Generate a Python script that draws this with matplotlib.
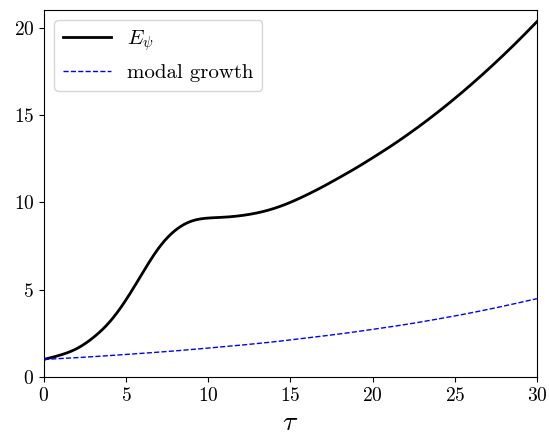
import matplotlib
matplotlib.use("Agg")
import matplotlib.pyplot as plt
import numpy as np

plt.rcParams['font.family'] = 'serif'
plt.rcParams['font.serif'] = ['cmr10']
plt.rcParams['mathtext.fontset'] = 'cm'
plt.rcParams['axes.formatter.use_mathtext'] = True

# energy curve
tau_e = [0, 1, 2, 3, 4, 5, 6, 7, 8, 9, 10,
         11, 12, 13, 14, 15, 16, 17, 18, 19, 20, 21, 22, 23, 24, 25, 26, 27, 28, 29, 30]
e_psi = [1.0, 1.25, 1.62, 2.25, 3.15, 4.42, 5.95, 7.4, 8.4, 8.93, 9.1,
         9.15, 9.24, 9.40, 9.65, 10.0, 10.43, 10.91, 11.43, 11.97, 12.55, 13.15, 13.79, 14.47, 15.19, 15.95,
         16.75, 17.59, 18.47, 19.39, 20.35]

# modal growth curve
tau_m = [0, 2, 4, 6, 8, 10, 12, 14, 16, 18, 20, 22, 24, 26, 28, 30]
modal = [1.0, 1.1, 1.22, 1.35, 1.49, 1.65, 1.82, 2.01, 2.23, 2.46, 2.72, 3.0, 3.32, 3.67, 4.06, 4.48]


def spline(xk, yk, xs):
    # natural cubic spline through the read points
    xk = np.asarray(xk, float)
    yk = np.asarray(yk, float)
    n = len(xk)
    h = np.diff(xk)
    A = np.zeros((n, n))
    b = np.zeros(n)
    A[0, 0] = 1
    A[-1, -1] = 1
    for i in range(1, n - 1):
        A[i, i - 1] = h[i - 1]
        A[i, i] = 2 * (h[i - 1] + h[i])
        A[i, i + 1] = h[i]
        b[i] = 6 * ((yk[i + 1] - yk[i]) / h[i] - (yk[i] - yk[i - 1]) / h[i - 1])
    m = np.linalg.solve(A, b)
    idx = np.clip(np.searchsorted(xk, xs) - 1, 0, n - 2)
    x0, x1 = xk[idx], xk[idx + 1]
    hh = x1 - x0
    t0, t1 = x1 - xs, xs - x0
    return (m[idx] * t0 ** 3 / (6 * hh) + m[idx + 1] * t1 ** 3 / (6 * hh)
            + (yk[idx] / hh - m[idx] * hh / 6) * t0 + (yk[idx + 1] / hh - m[idx + 1] * hh / 6) * t1)


x_fine = np.linspace(0, 30, 601)

fig = plt.figure(figsize=(5.49, 4.46), dpi=100)
ax = fig.add_axes([0.080, 0.155, 0.898, 0.823])

ax.plot(x_fine, spline(tau_e, e_psi, x_fine), color='black', lw=2, label=r'$E_\psi$')
ax.plot(x_fine, spline(tau_m, modal, x_fine), color='blue', lw=1, ls='--', label='modal growth')

ax.set_xlim(0, 30)
ax.set_ylim(0, 21.03)
ax.set_xticks([0, 5, 10, 15, 20, 25, 30])
ax.set_yticks([0, 5, 10, 15, 20])
ax.tick_params(labelsize=14)
ax.set_xlabel(r'$\tau$', fontsize=20)

ax.legend(loc='upper left', fontsize=15, handlelength=2.3)

fig.savefig('out.png', dpi=100)
